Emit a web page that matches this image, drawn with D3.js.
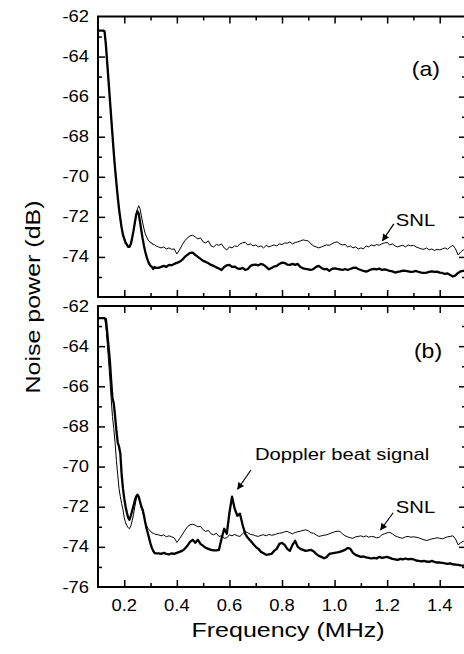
<!DOCTYPE html>
<html>
<head>
<meta charset="utf-8">
<script src="https://cdn.jsdelivr.net/npm/d3@7"></script>
<style>
  body { margin: 0; background: #fff; }
  svg { display: block; font-family: "Liberation Sans", Arial, sans-serif; }
</style>
</head>
<body>
<div id="chart"></div>
<script>
// frequency grid (MHz): 5 kHz steps up to 0.32, then 10 kHz steps up to 1.5
const freq = [...d3.range(100, 321, 5), ...d3.range(330, 1501, 10)].map(k => k / 1000);

// panel (a): shot-noise limit (thin) and measured noise (thick), dB
const snlA = [
  -62.7, -62.7, -62.7, -62.7, -62.7, -62.75, -63.4, -64.3, -65.2, -66.1,
  -67.0, -67.9, -68.8, -69.6, -70.3, -71.0, -71.6, -72.1, -72.55, -72.85,
  -73.05, -73.25, -73.35, -73.45, -73.45, -73.3, -73.0, -72.7, -72.35, -71.95,
  -71.6, -71.45, -71.6, -71.95, -72.3, -72.6, -72.85, -73.0, -73.15, -73.2,
  -73.3, -73.3, -73.4, -73.38, -73.45,
  -73.5, -73.55, -73.5, -73.6, -73.55, -73.62, -73.6, -73.85, -73.65, -73.4,
  -73.2, -73.05, -72.95, -72.92, -73.0, -73.1, -73.05, -73.25, -73.3, -73.2,
  -73.45, -73.5, -73.38, -73.42, -73.35, -73.55, -73.65, -73.5, -73.55, -73.45,
  -73.48, -73.35, -73.3, -73.27, -73.4, -73.35, -73.45, -73.4, -73.5, -73.45,
  -73.55, -73.42, -73.5, -73.45, -73.4, -73.45, -73.35, -73.38, -73.3, -73.32,
  -73.25, -73.35, -73.28, -73.25, -73.2, -73.15, -73.18, -73.2, -73.35, -73.45,
  -73.5, -73.55, -73.5, -73.45, -73.4, -73.42, -73.35, -73.28, -73.25, -73.35,
  -73.4, -73.38, -73.5, -73.45, -73.55, -73.5, -73.6, -73.55, -73.6, -73.45,
  -73.5, -73.4, -73.45, -73.38, -73.42, -73.35, -73.3, -73.28, -73.4, -73.35,
  -73.45, -73.5, -73.45, -73.42, -73.5, -73.4, -73.45, -73.42, -73.5, -73.55,
  -73.6, -73.62, -73.55, -73.65, -73.6, -73.68, -73.62, -73.65, -73.6, -73.55,
  -73.62, -73.5, -73.42, -73.6, -73.9, -73.75, -73.65, -73.6
];
const noiseA = [
  -62.7, -62.7, -62.7, -62.7, -62.7, -62.75, -63.4, -64.3, -65.2, -66.1,
  -67.0, -67.9, -68.8, -69.6, -70.3, -71.0, -71.6, -72.1, -72.55, -72.9,
  -73.1, -73.3, -73.4, -73.5, -73.5, -73.35, -73.05, -72.7, -72.3, -71.9,
  -71.72, -71.85, -72.25, -72.7, -73.1, -73.45, -73.75, -74.0, -74.2, -74.35,
  -74.45, -74.5, -74.6, -74.5, -74.55,
  -74.55, -74.5, -74.45, -74.5, -74.4, -74.42, -74.35, -74.3, -74.25, -74.15,
  -74.0, -73.9, -73.8, -73.78, -73.9, -74.0, -74.1, -74.2, -74.25, -74.32,
  -74.4, -74.45, -74.52, -74.58, -74.65, -74.5, -74.42, -74.4, -74.5, -74.48,
  -74.57, -74.6, -74.55, -74.65, -74.6, -74.45, -74.4, -74.38, -74.42, -74.35,
  -74.4, -74.5, -74.62, -74.55, -74.48, -74.45, -74.35, -74.28, -74.3, -74.38,
  -74.4, -74.35, -74.4, -74.35, -74.5, -74.57, -74.6, -74.62, -74.65, -74.6,
  -74.5, -74.45, -74.55, -74.62, -74.6, -74.7, -74.6, -74.57, -74.6, -74.62,
  -74.65, -74.6, -74.65, -74.6, -74.55, -74.53, -74.6, -74.65, -74.7, -74.73,
  -74.68, -74.62, -74.6, -74.62, -74.58, -74.65, -74.62, -74.65, -74.7, -74.72,
  -74.78, -74.75, -74.72, -74.68, -74.7, -74.72, -74.75, -74.73, -74.7, -74.75,
  -74.78, -74.8, -74.78, -74.75, -74.72, -74.75, -74.73, -74.78, -74.8, -74.85,
  -74.82, -74.9, -74.98, -74.92, -74.8, -74.72, -74.7, -74.65
];

// panel (b): same pair, with the Doppler beat near 0.6 MHz
const snlB = [
  -62.6, -62.6, -62.6, -62.6, -62.6, -62.62, -63.0, -63.8, -64.7, -65.6,
  -66.6, -67.5, -68.1, -68.8, -69.7, -70.4, -71.1, -71.5, -71.85, -72.15,
  -72.55, -72.8, -72.95, -73.05, -73.1, -72.95, -72.7, -72.4, -72.0, -71.65,
  -71.48, -71.55, -71.8, -72.05, -72.25, -72.5, -72.75, -72.95, -73.07, -73.15,
  -73.22, -73.3, -73.32, -73.35, -73.38,
  -73.4, -73.45, -73.4, -73.5, -73.45, -73.5, -73.55, -73.78, -73.6, -73.4,
  -73.2, -73.0, -72.9, -72.87, -72.92, -73.0, -72.98, -73.15, -73.23, -73.18,
  -73.35, -73.4, -73.32, -73.48, -73.45, -73.57, -73.55, -73.4, -73.45, -73.38,
  -73.45, -73.48, -73.35, -73.23, -73.3, -73.38, -73.4, -73.45, -73.48, -73.42,
  -73.4, -73.45, -73.38, -73.42, -73.4, -73.35, -73.32, -73.3, -73.25, -73.23,
  -73.3, -73.35, -73.28, -73.25, -73.22, -73.18, -73.15, -73.2, -73.3, -73.32,
  -73.4, -73.48, -73.45, -73.42, -73.4, -73.35, -73.3, -73.25, -73.22, -73.23,
  -73.35, -73.45, -73.5, -73.55, -73.57, -73.5, -73.48, -73.45, -73.5, -73.45,
  -73.52, -73.48, -73.5, -73.55, -73.52, -73.4, -73.35, -73.3, -73.28, -73.35,
  -73.45, -73.5, -73.55, -73.57, -73.5, -73.48, -73.52, -73.5, -73.52, -73.55,
  -73.6, -73.65, -73.68, -73.65, -73.6, -73.58, -73.55, -73.57, -73.6, -73.55,
  -73.5, -73.48, -73.45, -73.6, -73.9, -73.8, -73.72, -73.7
];
const noiseB = [
  -62.6, -62.6, -62.6, -62.6, -62.6, -62.6, -62.65, -63.3, -64.0, -64.7,
  -65.7, -66.6, -66.85, -67.5, -68.2, -68.8, -69.0, -69.35, -70.4, -71.1,
  -71.6, -72.0, -72.3, -72.55, -72.65, -72.45, -72.2, -71.95, -71.7, -71.5,
  -71.4, -71.5, -71.75, -72.0, -72.15, -72.45, -72.8, -73.1, -73.35, -73.6,
  -73.85, -74.05, -74.2, -74.3, -74.32,
  -74.32, -74.35, -74.3, -74.35, -74.38, -74.32, -74.35, -74.3, -74.25, -74.2,
  -74.1, -73.95, -73.75, -73.65, -73.8, -73.65, -73.85, -73.95, -74.05, -74.1,
  -74.15, -74.18, -74.18, -74.15, -73.6, -73.1, -73.35, -72.3, -71.5, -72.1,
  -72.45, -72.35, -72.9, -73.35, -73.55, -73.7, -73.85, -74.0, -74.1, -74.25,
  -74.32, -74.4, -74.38, -74.35, -74.2, -74.1, -73.85, -73.8, -73.9, -74.1,
  -74.2, -73.9, -73.7, -74.0, -74.1, -74.15, -74.2, -74.18, -74.15, -74.22,
  -74.35, -74.45, -74.5, -74.57, -74.5, -74.35, -74.32, -74.3, -74.28, -74.25,
  -74.2, -74.15, -74.05, -74.1, -74.3, -74.4, -74.45, -74.5, -74.48, -74.52,
  -74.55, -74.58, -74.55, -74.58, -74.5, -74.55, -74.52, -74.5, -74.55, -74.6,
  -74.62, -74.65, -74.6, -74.62, -74.58, -74.62, -74.6, -74.62, -74.68, -74.7,
  -74.72, -74.7, -74.73, -74.75, -74.7, -74.75, -74.78, -74.78, -74.8, -74.82,
  -74.85, -74.82, -74.87, -74.88, -74.9, -74.92, -74.93, -74.95
];

// ticks
const xTicks = [0.2, 0.4, 0.6, 0.8, 1.0, 1.2, 1.4];
const xMinor = [0.3, 0.5, 0.7, 0.9, 1.1, 1.3];
const yTicksA = [-62, -64, -66, -68, -70, -72, -74];
const yTicksB = [-62, -64, -66, -68, -70, -72, -74, -76];
const yMajor = [-64, -66, -68, -70, -72, -74];
const yMinor = [-63, -65, -67, -69, -71, -73, -75];

const W = 464, H = 654;
const svg = d3.select('#chart').append('svg')
  .attr('width', W)
  .attr('height', H);

// arrow head
svg.append('defs').append('marker')
  .attr('id', 'head')
  .attr('viewBox', '0 0 10 10')
  .attr('refX', 9).attr('refY', 5)
  .attr('markerUnits', 'userSpaceOnUse')
  .attr('markerWidth', 9).attr('markerHeight', 7)
  .attr('orient', 'auto')
  .append('path')
  .attr('d', 'M0,0 L10,5 L0,10 z')
  .attr('fill', '#000');

// x spans past the right edge of the picture (frame at 1.5 is cut off)
const x = d3.scaleLinear().domain([0.1, 1.5]).range([98, 466]);

// text with a wider set width, like the original Helvetica
function label(g, txt, px, py, size, anchor, sx, rot) {
  return g.append('text')
    .attr('transform', `translate(${px},${py})${rot ? ' rotate(' + rot + ')' : ''} scale(${sx},1)`)
    .attr('text-anchor', anchor)
    .style('font-size', size + 'px')
    .attr('fill', '#000')
    .text(txt);
}

function drawPanel(p) {
  const y = d3.scaleLinear().domain([-76, -62]).range([p.bottom, p.top]);
  const g = svg.append('g');

  const line = d3.line()
    .x((d, i) => x(freq[i]))
    .y(d => y(d));

  g.append('path')
    .datum(p.thin)
    .attr('d', line)
    .attr('fill', 'none')
    .attr('stroke', '#000')
    .attr('stroke-width', 1);

  g.append('path')
    .datum(p.thick)
    .attr('d', line)
    .attr('fill', 'none')
    .attr('stroke', '#000')
    .attr('stroke-width', 2.3)
    .attr('stroke-linejoin', 'round');

  // inward ticks on all four sides
  const sides = [
    [d3.axisBottom(x), xTicks, xMinor, `translate(0,${p.top})`],
    [d3.axisTop(x), xTicks, xMinor, `translate(0,${p.bottom})`],
    [d3.axisRight(y), yMajor, yMinor, `translate(${x(0.1)},0)`],
    [d3.axisLeft(y), yMajor, yMinor, `translate(${x(1.5)},0)`]
  ];
  sides.forEach(([axis, major, minor, tr]) => {
    [[major, 7], [minor, 4]].forEach(([vals, len]) => {
      g.append('g')
        .attr('transform', tr)
        .call(axis.tickValues(vals).tickSize(len).tickFormat(''))
        .call(s => s.select('.domain').remove())
        .selectAll('line')
        .attr('stroke', '#000')
        .attr('stroke-width', 1.5);
    });
  });

  // frame
  g.append('rect')
    .attr('x', x(0.1))
    .attr('y', p.top)
    .attr('width', x(1.5) - x(0.1))
    .attr('height', p.bottom - p.top)
    .attr('fill', 'none')
    .attr('stroke', '#000')
    .attr('stroke-width', 2);

  // y tick labels
  p.yLabels.forEach(v => label(g, String(v), 89, y(v) + 5.5, 16, 'end', 1.15));

  // panel tag
  label(g, p.tag, x(p.tagAt[0]), y(p.tagAt[1]), 20, 'start', 1.15);

  // annotations with arrows
  p.notes.forEach(n => {
    label(g, n.text, x(n.at[0]), y(n.at[1]), 17, 'start', 1.19);
    g.append('line')
      .attr('x1', x(n.from[0])).attr('y1', y(n.from[1]))
      .attr('x2', x(n.to[0])).attr('y2', y(n.to[1]))
      .attr('stroke', '#000')
      .attr('stroke-width', 1.2)
      .attr('marker-end', 'url(#head)');
  });

  return y;
}

drawPanel({
  top: 16.5, bottom: 297, thin: snlA, thick: noiseA, yLabels: yTicksA,
  tag: '(a)', tagAt: [1.294, -64.97],
  notes: [
    { text: 'SNL', at: [1.233, -72.45], from: [1.2255, -72.35], to: [1.1825, -73.19] }
  ]
});

drawPanel({
  top: 306, bottom: 587, thin: snlB, thick: noiseB, yLabels: yTicksB,
  tag: '(b)', tagAt: [1.302, -64.57],
  notes: [
    { text: 'SNL', at: [1.233, -72.31], from: [1.223, -72.3], to: [1.175, -73.16] },
    { text: 'Doppler beat signal', at: [0.697, -69.67], from: [0.682, -70.17], to: [0.631, -71.13] }
  ]
});

// x tick labels under the lower panel
xTicks.forEach(v => label(svg, v.toFixed(1), x(v), 611, 16, 'middle', 1.15));

// axis titles
label(svg, 'Frequency (MHz)', 288, 637, 20, 'middle', 1.25);
label(svg, 'Noise power (dB)', 40, 297, 20, 'middle', 1.25, -90);
</script>
</body>
</html>
